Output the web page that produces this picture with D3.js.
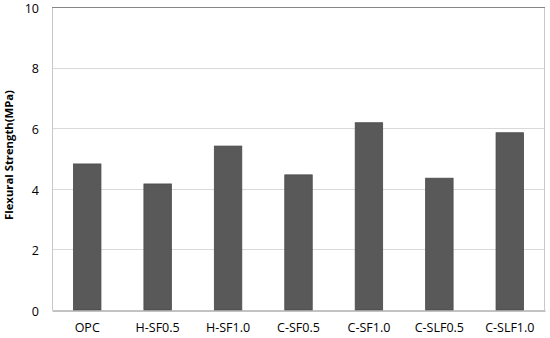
<!DOCTYPE html>
<html>
<head>
<meta charset="utf-8">
<script src="https://cdn.jsdelivr.net/npm/d3@7"></script>
<style>
  body { margin: 0; background: #fff; }
  text { font-family: "Open Sans", "Noto Sans", sans-serif; fill: #000; }
</style>
</head>
<body>
<svg id="chart"></svg>
<script>
var categories = ["OPC", "H-SF0.5", "H-SF1.0", "C-SF0.5", "C-SF1.0", "C-SLF0.5", "C-SLF1.0"];
var strength = [4.82, 4.16, 5.41, 4.46, 6.18, 4.35, 5.85];
var yTicks = [0, 2, 4, 6, 8, 10];

var width = 550, height = 338;
var margin = { top: 7, right: 5, bottom: 28, left: 52 };

var svg = d3.select("#chart")
  .attr("width", width)
  .attr("height", height);

var x = d3.scaleBand()
  .domain(categories)
  .range([margin.left, width - margin.right])
  .paddingInner(0.61)
  .paddingOuter(0.305);

var y = d3.scaleLinear()
  .domain([0, 10])
  .range([height - margin.bottom, margin.top]);

// gridlines
svg.append("g")
  .selectAll("line")
  .data(yTicks.slice(1, -1))
  .enter().append("line")
    .attr("x1", margin.left)
    .attr("x2", width - margin.right)
    .attr("y1", function(d) { return Math.round(y(d)) + 0.5; })
    .attr("y2", function(d) { return Math.round(y(d)) + 0.5; })
    .attr("stroke", "#d9d9d9");

// side borders
svg.append("line")
  .attr("x1", margin.left + 0.5).attr("x2", margin.left + 0.5)
  .attr("y1", y(10)).attr("y2", y(0))
  .attr("stroke", "#c8c8c8");
svg.append("line")
  .attr("x1", width - margin.right - 0.5).attr("x2", width - margin.right - 0.5)
  .attr("y1", y(10)).attr("y2", y(0))
  .attr("stroke", "#c8c8c8");
svg.append("line")
  .attr("x1", margin.left).attr("x2", width - margin.right)
  .attr("y1", Math.round(y(10)) + 0.5).attr("y2", Math.round(y(10)) + 0.5)
  .attr("stroke", "#868686");

// bars
svg.append("g")
  .selectAll("rect")
  .data(strength)
  .enter().append("rect")
    .attr("x", function(d, i) { return x(categories[i]); })
    .attr("width", x.bandwidth())
    .attr("y", function(d) { return y(d); })
    .attr("height", function(d) { return y(0) - y(d); })
    .attr("fill", "#595959")
    .attr("stroke", "#4a4a4a")
    .attr("stroke-width", 0.8);

// x axis
var xAxis = svg.append("g")
  .attr("transform", "translate(0," + (Math.round(y(0)) + 0.5) + ")")
  .call(d3.axisBottom(x).tickSize(0).tickPadding(13));
xAxis.select(".domain").attr("stroke", "#868686");
xAxis.selectAll("text").style("font-size", "12.5px");

// y axis
var yAxis = svg.append("g")
  .attr("transform", "translate(" + margin.left + ",0)")
  .call(d3.axisLeft(y).tickValues(yTicks).tickSize(0).tickPadding(13));
yAxis.select(".domain").remove();
yAxis.selectAll("text").style("font-size", "12.5px").attr("dy", "0.42em");

svg.append("text")
  .attr("transform", "translate(13,155) rotate(-90)")
  .attr("text-anchor", "middle")
  .style("font-size", "11.3px")
  .style("font-weight", "bold")
  .text("Flexural Strength(MPa)");
</script>
</body>
</html>
